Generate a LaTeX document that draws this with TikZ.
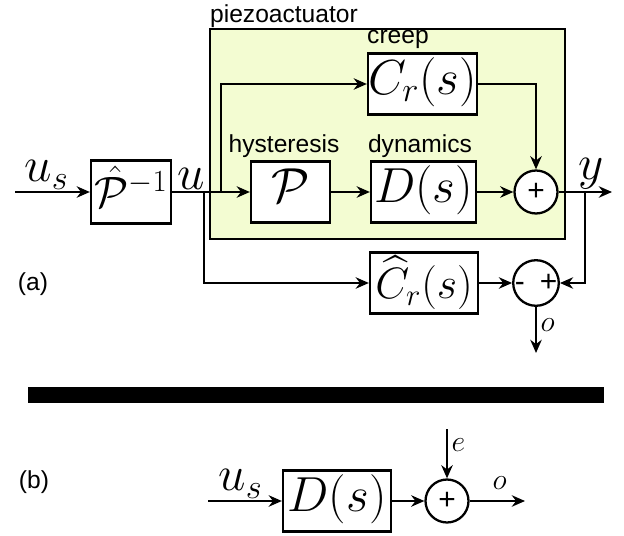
\RequirePackage{fix-cm}
\documentclass[tikz,border=0pt]{standalone}
\usepackage{amsmath}
\usepackage{fontspec}
\setsansfont{Liberation Sans}
\usetikzlibrary{arrows.meta}

\definecolor{piezogreen}{RGB}{243,252,210}

\begin{document}
\begin{tikzpicture}[x=0.02cm, y=-0.02cm, line width=1.3pt,
    >={Stealth[length=7.5pt, width=6.5pt]},
    block/.style={draw, fill=white, inner sep=0pt, minimum height=1.22cm, text height=20pt, text depth=8pt, font=\fontsize{28}{32}\selectfont},
    hatblock/.style={block, text height=23pt, text depth=5pt, font=\fontsize{25}{30}\selectfont},
    sum/.style={circle, draw, fill=white, inner sep=0pt, minimum size=0.86cm, font=\sffamily\fontsize{17}{19}\selectfont},
    lbl/.style={font=\sffamily\fontsize{14}{16}\selectfont, inner sep=0pt},
    sig/.style={font=\fontsize{28}{32}\selectfont, inner sep=1pt},
    osig/.style={font=\fontsize{17}{20}\selectfont, inner sep=2pt}]
    \useasboundingbox (0,0) rectangle (624,536);

    % Piezoactuator frame
    \node[draw, fill=piezogreen, line width=0.9pt, minimum width=7.1cm, minimum height=4.2cm] (piezo) at (387.5,134) {};
    \node[lbl, anchor=base west] (piezolbl) at (209,23) {piezoactuator};

    % Draw blocks (a)
    \node[hatblock, minimum width=1.6cm, minimum height=1.26cm] (pinv) at (131,192) {$\hat{\mathcal{P}}^{-1}$};
    \node[block, minimum width=1.58cm] (hyst) at (290.5,192) {$\mathcal{P}$};
    \node[block, minimum width=2.14cm] (creep) at (422.5,84) {$C_r(s)$};
    \node[block, minimum width=2.1cm] (dyn) at (423.5,192) {$D(s)$};
    \node[sum] (sum1) at (536,192) {+};
    \node[hatblock, minimum width=2.16cm] (model) at (424,283) {$\widehat{C}_r(s)$};
    \node[sum] (sum2) at (536,283) {-\hspace{0.3cm}+};

    % Labels
    \node[lbl, anchor=base] (hystlbl) at (284,153) {hysteresis};
    \node[lbl, anchor=base] (dynlbl) at (420,153) {dynamics};
    \node[lbl, anchor=base] (creeplbl) at (398,44) {creep};
    \node[lbl] (alabel) at (33,284) {(a)};

    % Ends and branch points
    \coordinate (usin) at (15,192);
    \coordinate (j1) at (204,192);
    \coordinate (j2) at (221,192);
    \coordinate (j3) at (585,192);
    \coordinate (yout) at (612,192);
    \coordinate (oout) at (536,353);

    % Draw connections (a)
    \draw[->] (usin) -- (pinv) node[sig, pos=0.42, above] {$u_s$};
    \draw[->] (pinv) -- (hyst) node[sig, pos=0.24, above] {$u$};
    \draw[->] (hyst) -- (dyn);
    \draw[->] (dyn) -- (sum1);
    \draw[->] (j2) |- (creep);
    \draw[->] (creep) -| (sum1);
    \draw[->] (sum1) -- (yout) node[sig, pos=0.6, above] {$y$};
    \draw[->] (j1) |- (model);
    \draw[->] (model) -- (sum2);
    \draw[->] (j3) |- (sum2);
    \draw[->] (sum2) -- (oout) node[osig, pos=0.4, right] {$o$};

    % Separator
    \fill (28,387) rectangle (604,403);

    % Draw blocks (b)
    \node[lbl] (blabel) at (34,482) {(b)};
    \node[block, minimum width=2.16cm] (dynb) at (337,501) {$D(s)$};
    \node[sum] (sum3) at (447,501) {+};
    \coordinate (usb) at (208,501);
    \coordinate (ein) at (447,429);
    \coordinate (obout) at (525,501);

    % Draw connections (b)
    \draw[->] (usb) -- (dynb) node[sig, pos=0.44, above] {$u_s$};
    \draw[->] (dynb) -- (sum3);
    \draw[->] (ein) -- (sum3) node[osig, pos=0.32, right] {$e$};
    \draw[->] (sum3) -- (obout) node[osig, pos=0.54, above=4pt] {$o$};
\end{tikzpicture}
\end{document}
